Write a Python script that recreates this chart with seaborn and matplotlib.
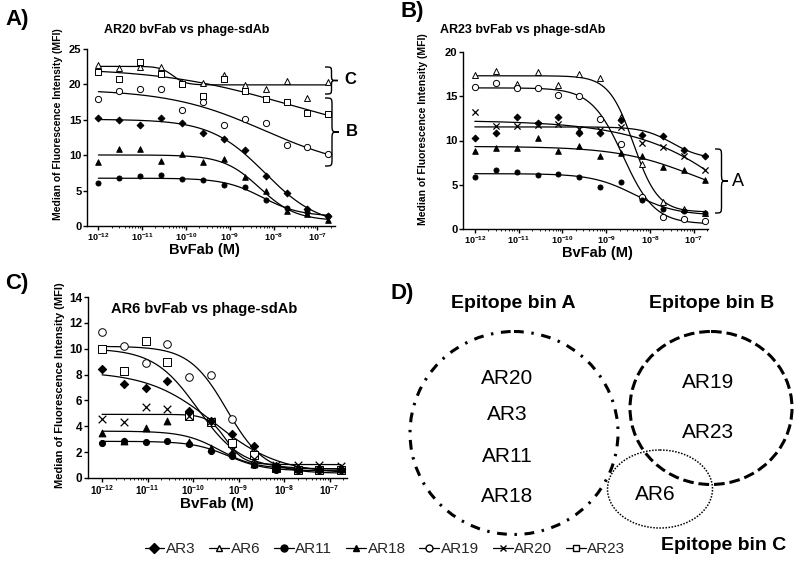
import numpy as np
import pandas as pd
import matplotlib
matplotlib.use("Agg")
import matplotlib.pyplot as plt
from matplotlib.lines import Line2D
from matplotlib.patches import Ellipse, PathPatch
from matplotlib.path import Path
from matplotlib.ticker import FuncFormatter, FixedLocator, NullFormatter, MultipleLocator
import seaborn as sns

# BvFab concentration (M), 3-fold serial dilution
conc = [1e-12, 3e-12, 9e-12, 2.7e-11, 8.1e-11, 2.43e-10, 7.29e-10,
        2.19e-9, 6.56e-9, 1.97e-8, 5.9e-8, 1.77e-7]
decades = [-12, -11, -10, -9, -8, -7]

clones = ["AR3", "AR6", "AR11", "AR18", "AR19", "AR20", "AR23"]

# A) AR20 bvFab vs phage-sdAb  (MFI)
a_ar3 = [15.3, 15.0, 14.2, 15.3, 14.6, 13.1, 12.3, 10.8, 7.0, 4.7, 2.4, 1.4]
a_ar6 = [22.7, 22.3, 22.4, 22.5, 20.2, 20.2, 21.3, 19.9, 19.3, 20.5, 18.1, 20.4]
a_ar11 = [6.1, 6.8, 7.0, 7.2, 6.7, 6.5, 5.8, 5.5, 3.7, 2.5, 2.0, 1.4]
a_ar18 = [9.1, 10.9, 10.9, 9.2, 10.1, 9.1, 9.4, 6.9, 4.9, 2.1, 1.7, 0.8]
a_ar19 = [17.9, 19.0, 19.4, 19.3, 16.4, 17.5, 14.2, 15.1, 14.5, 11.5, 11.1, 10.1]
a_ar23 = [21.7, 20.8, 23.1, 21.5, 20.1, 18.4, 20.8, 19.1, 18.0, 17.5, 15.9, 15.8]

# B) AR23 bvFab vs phage-sdAb
b_ar3 = [10.3, 10.8, 12.6, 12.0, 12.7, 10.9, 10.9, 12.3, 10.6, 10.5, 8.9, 8.3]
b_ar6 = [17.4, 17.9, 16.4, 17.7, 16.3, 17.5, 17.1, 12.7, 7.3, 3.1, 2.3, 1.8]
b_ar11 = [5.9, 6.7, 6.4, 6.1, 6.2, 5.9, 4.8, 5.3, 3.3, 2.3, 2.0, 1.8]
b_ar18 = [8.8, 9.2, 9.2, 10.3, 8.8, 9.4, 8.2, 8.6, 8.2, 7.0, 6.7, 5.5]
b_ar19 = [16.1, 16.5, 15.9, 15.9, 15.1, 15.0, 12.4, 9.6, 3.6, 1.3, 1.1, 0.9]
b_ar20 = [13.2, 11.6, 11.6, 11.7, 11.9, 11.3, 11.2, 11.5, 9.7, 9.3, 8.2, 6.7]

# C) AR6 bvFab vs phage-sdAb
c_ar3 = [8.4, 7.3, 7.0, 7.5, 5.2, 4.4, 3.4, 2.5, 0.9, 0.7, 0.7, 0.7]
c_ar11 = [2.7, 2.9, 2.8, 2.9, 2.6, 2.1, 1.7, 1.0, 0.6, 0.6, 0.6, 0.6]
c_ar18 = [3.5, 2.9, 3.9, 4.4, 2.8, 2.3, 1.9, 1.1, 0.8, 0.7, 0.7, 0.7]
c_ar19 = [11.3, 10.2, 8.9, 10.4, 7.8, 8.0, 4.6, 1.9, 0.8, 0.6, 0.6, 0.6]
c_ar20 = [4.6, 4.3, 5.5, 5.3, 4.8, 4.4, 2.2, 1.5, 1.0, 1.0, 1.0, 0.95]
c_ar23 = [10.0, 8.3, 10.6, 9.0, 4.8, 4.3, 2.7, 1.8, 0.75, 0.6, 0.6, 0.6]

# D) epitope bins
bin_a = ["AR20", "AR3", "AR11", "AR18"]
bin_b = ["AR19", "AR23"]
bin_c = ["AR6"]

markers = {"AR3": ("D", "black", 12), "AR6": ("^", "white", 18),
           "AR11": ("o", "black", 13), "AR18": ("^", "black", 16),
           "AR19": ("o", "white", 20), "AR20": ("x", "black", 20),
           "AR23": ("s", "white", 18)}

sns.set_theme(style="ticks")
plt.rcParams["font.family"] = ["Liberation Sans", "DejaVu Sans"]
plt.rcParams["font.weight"] = "bold"
plt.rcParams["mathtext.fontset"] = "custom"
plt.rcParams["mathtext.bf"] = "Liberation Sans:bold"
plt.rcParams["mathtext.rm"] = "Liberation Sans"


def fit_curve(x, y):
    # 4-parameter logistic fit by grid search (top/bottom solved linearly)
    lx = np.log10(x)
    y = np.asarray(y, dtype=float)
    cc, hh = np.meshgrid(np.arange(-13.0, -5.0, 0.02), np.arange(0.3, 3.0, 0.05), indexing="ij")
    cc = cc.ravel()[:, None]
    hh = hh.ravel()[:, None]
    s = 1 / (1 + 10 ** ((lx[None, :] - cc) * hh))
    sm = s.mean(1)
    ds = s - sm[:, None]
    slope = (ds * (y - y.mean())).sum(1) / np.maximum((ds ** 2).sum(1), 1e-12)
    inter = y.mean() - slope * sm
    sse = ((inter[:, None] + slope[:, None] * s - y) ** 2).sum(1)
    k = np.argmin(sse)
    fx = np.logspace(lx[0], lx[-1], 200)
    fs = 1 / (1 + 10 ** ((np.log10(fx) - cc[k, 0]) * hh[k, 0]))
    return fx, inter[k] + slope[k] * fs


def draw_panel(ax, series, ymax, ystep, xlim, msc, ysize, xbold):
    for clone, vals in series.items():
        df = pd.DataFrame({"conc": conc, "mfi": vals})
        m, fc, s = markers[clone]
        if m == "x":
            sns.scatterplot(data=df, x="conc", y="mfi", marker="x", color="black",
                            s=s * msc, linewidth=0.9, ax=ax, zorder=3)
        else:
            sns.scatterplot(data=df, x="conc", y="mfi", marker=m, facecolor=fc,
                            edgecolor="black", s=s * msc, linewidth=0.7, ax=ax, zorder=3)
        fx, fy = fit_curve(conc, vals)
        sns.lineplot(x=fx, y=fy, color="black", lw=0.9, ax=ax, zorder=2)
    ax.set_xscale("log")
    ax.set_xlim(10 ** xlim[0], 10 ** xlim[1])
    ax.set_ylim(0, ymax)
    ax.yaxis.set_major_locator(MultipleLocator(ystep))
    ax.xaxis.set_major_locator(FixedLocator([10.0 ** d for d in decades]))
    minors = [k * 10.0 ** d for d in decades[:-1] for k in range(2, 10)] + [2e-7]
    ax.xaxis.set_minor_locator(FixedLocator([v for v in minors if v < 10 ** xlim[1]]))
    ax.xaxis.set_minor_formatter(NullFormatter())
    fmt = r"$\mathbf{10^{%d}}$" if xbold else r"$\mathrm{10^{%d}}$"
    ax.xaxis.set_major_formatter(FuncFormatter(lambda v, p: fmt % round(np.log10(v))))
    ax.set_xlabel("")
    ax.set_ylabel("")
    ax.set_facecolor("none")
    sns.despine(ax=ax)
    for sp in ("left", "bottom"):
        ax.spines[sp].set_linewidth(1.0)
        ax.spines[sp].set_color("black")
    ax.tick_params(axis="y", labelsize=ysize, length=3, width=1, pad=1, colors="black")
    ax.tick_params(axis="x", which="major", labelsize=7 if xbold else 6.5,
                   length=3, width=1, pad=0.5, colors="black")
    ax.tick_params(axis="x", which="minor", length=1.5, width=0.6, colors="black")


fig = plt.figure(figsize=(8, 5.64), dpi=100)
W, H = 800, 564


def box(x0, x1, ytop, ybot):
    return [x0 / W, 1 - ybot / H, (x1 - x0) / W, (ybot - ytop) / H]


ax_a = fig.add_axes(box(87, 335, 49, 226))
draw_panel(ax_a, {"AR6": a_ar6, "AR23": a_ar23, "AR19": a_ar19, "AR3": a_ar3,
                  "AR18": a_ar18, "AR11": a_ar11}, 25, 5, (-12.26, -6.6), 1.0, 8, False)

ax_b = fig.add_axes(box(463, 708, 52, 229))
draw_panel(ax_b, {"AR6": b_ar6, "AR19": b_ar19, "AR20": b_ar20, "AR3": b_ar3,
                  "AR18": b_ar18, "AR11": b_ar11}, 20, 5, (-12.27, -6.68), 1.0, 8, False)

ax_c = fig.add_axes(box(88, 347, 297, 478))
draw_panel(ax_c, {"AR19": c_ar19, "AR23": c_ar23, "AR3": c_ar3, "AR20": c_ar20,
                  "AR18": c_ar18, "AR11": c_ar11}, 14, 2, (-12.31, -6.62), 1.5, 8.5, True)

# overlay in pixel coordinates for labels, braces and the epitope diagram
ov = fig.add_axes([0, 0, 1, 1], zorder=10)
ov.set_xlim(0, W)
ov.set_ylim(H, 0)
ov.axis("off")
ov.patch.set_alpha(0)


def txt(x, y, s, size, weight="bold", **kw):
    ov.text(x, y, s, fontsize=size, fontweight=weight, ha=kw.pop("ha", "center"),
            va="center", color="black", **kw)


txt(5, 20, "A)", 16, ha="left")
txt(400, 12, "B)", 16, ha="left")
txt(5, 284, "C)", 16, ha="left")
txt(390, 293, "D)", 16, ha="left")
txt(187, 30, "AR20 bvFab vs phage-sdAb", 9)
txt(523, 30, "AR23 bvFab vs phage-sdAb", 9)
txt(204, 309, "AR6 bvFab vs phage-sdAb", 10.5)
txt(204, 250, "BvFab (M)", 10.5)
txt(597, 253, "BvFab (M)", 10.5)
txt(217, 504, "BvFab (M)", 11)
ylab = "Median of Fluorescence Intensity (MFI)"
txt(58, 124, ylab, 7.5, rotation=90)
txt(423, 129, ylab, 7.5, rotation=90)
txt(60, 385, ylab, 8, rotation=90)


def brace(x, y0, y1, w):
    ym = (y0 + y1) / 2
    xm = x + w / 2
    r = min(w * 0.6, (y1 - y0) * 0.2)
    verts = [(x, y0), (xm, y0), (xm, y0), (xm, y0 + r),
             (xm, ym - r),
             (xm, ym), (xm, ym), (x + w, ym),
             (xm, ym), (xm, ym), (xm, ym + r),
             (xm, y1 - r),
             (xm, y1), (xm, y1), (x, y1)]
    codes = [Path.MOVETO] + [Path.CURVE4] * 3 + [Path.LINETO] + [Path.CURVE4] * 3 + \
            [Path.CURVE4] * 3 + [Path.LINETO] + [Path.CURVE4] * 3
    ov.add_patch(PathPatch(Path(verts, codes), fill=False, lw=1.0, color="black"))


brace(325, 67, 94, 13)
txt(350, 80, "C", 12)
brace(325, 98, 166, 14)
txt(352, 132, "B", 12)
brace(715, 149, 213, 13)
txt(738, 181, "A", 13, weight="normal")

# epitope bins
ov.add_patch(Ellipse((514, 433), 208, 203, fill=False, lw=2.2, color="black",
                     linestyle=(0, (3.2, 2.5, 0.8, 2.5))))
ov.add_patch(Ellipse((711, 408), 162, 153, fill=False, lw=2.2, color="black",
                     linestyle=(0, (3.5, 1.6))))
ov.add_patch(Ellipse((660, 489), 105, 78, fill=False, lw=1.1, color="black",
                     linestyle=(0, (1, 1))))
txt(513, 303, "Epitope bin A", 14)
txt(712, 303, "Epitope bin B", 14)
txt(724, 546, "Epitope bin C", 14)
for name, y in zip(bin_a, [378, 415, 457, 497]):
    txt(507, y, name, 15, weight="normal")
for name, y in zip(bin_b, [383, 432]):
    txt(708, y, name, 15, weight="normal")
for name, y in zip(bin_c, [495]):
    txt(655, y, name, 15, weight="normal")

handles = []
for c in clones:
    m, fc, s = markers[c]
    handles.append(Line2D([], [], color="black", lw=0.9, marker=m, markerfacecolor=fc,
                          markeredgecolor="black", markersize=5, label=c))
fig.legend(handles=handles, loc="center", bbox_to_anchor=(385 / W, 1 - 549 / H), ncol=7,
           frameon=False, prop={"size": 11, "weight": "normal"}, handlelength=1.3,
           handletextpad=0.1, columnspacing=0.9, borderpad=0)

fig.savefig("out.png", dpi=100)
